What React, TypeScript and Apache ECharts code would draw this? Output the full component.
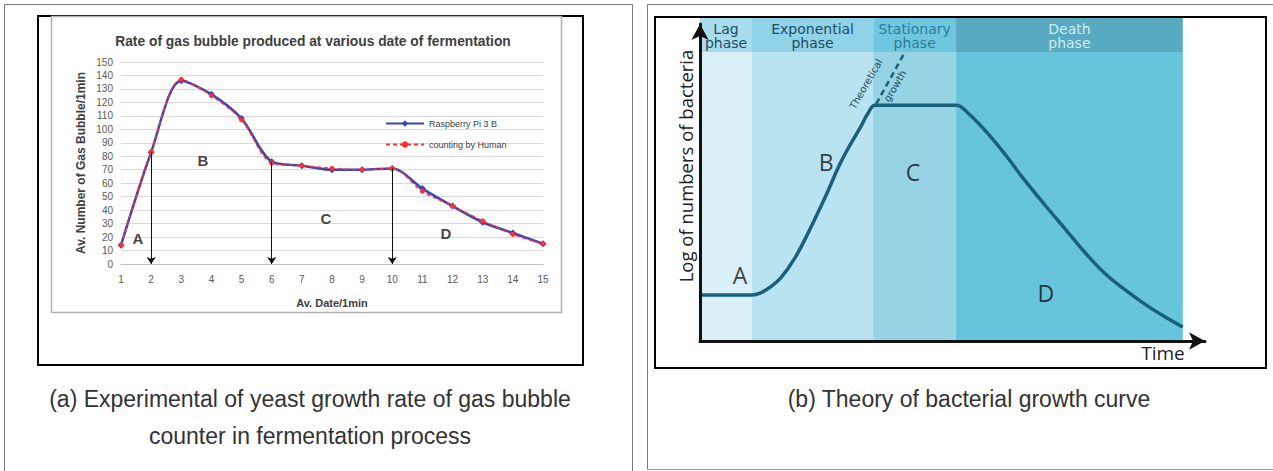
import React, { useEffect, useRef } from 'react';
import * as echarts from 'echarts';

// ---------- Panel (a) data ----------
const dates = [1, 2, 3, 4, 5, 6, 7, 8, 9, 10, 11, 12, 13, 14, 15];
const raspberryPi = [14, 83, 136, 126, 108, 76, 73, 70, 70, 71, 56, 43, 31, 23, 15];
const human = [14, 83, 137, 125, 107, 75, 73, 71, 70, 71, 54, 43, 32, 22, 15];
const arrowDates = [2, 6, 10];
const arrowValues = [83, 76, 71];
const expLetters = ['A', 'B', 'C', 'D'];
const expLetterX = [1.56, 3.72, 7.8, 11.78];
const expLetterY = [19, 77, 34, 23];

// ---------- Panel (b) data ----------
const phaseNames = ['Lag\nphase', 'Exponential\nphase', 'Stationary\nphase', 'Death\nphase'];
const phaseStart = [0, 10.3, 34.3, 50.7];
const phaseEnd = [10.3, 34.3, 50.7, 95.6];
const growthTime = [0, 10.3, 11.9, 13.9, 16.0, 18.8, 21.6, 24.8, 27.7, 29.7, 31.7, 33.3, 34.7, 50.7, 53.0, 56.8, 60.4, 64.0, 68.3, 72.7, 76.4, 80.4, 84.4, 88.3, 92.3, 95.6];
const growthLog = [14.5, 14.5, 15.1, 17.0, 19.9, 26.2, 34.7, 45.4, 55.8, 61.8, 67.2, 71.9, 74.4, 74.4, 72.0, 65.8, 58.9, 51.3, 42.9, 34.6, 27.6, 21.0, 15.9, 11.4, 7.4, 4.4];
const theoreticalTime = [34.9, 40.6];
const theoreticalLog = [74.8, 91.2];
const theoryLetters = ['A', 'B', 'C', 'D'];
const theoryLetterX = [7.9, 25.0, 42.2, 68.5];
const theoryLetterY = [20.8, 56.5, 53.3, 15.1];
const HEADER_BOTTOM = 91.2;
const HEADER_TOP = 101.9;

const bodyColors = ['#d9f0f6', '#b9e3f1', '#95d3e5', '#66c4dd'];
const headerColors = ['#a9dcec', '#90d2e8', '#6fc6df', '#57aac0'];
const headerTextColors = ['#1b4f60', '#1b4f60', '#2a7d9c', '#cdedf5'];

export default function App() {
  const ref = useRef<HTMLDivElement>(null);

  useEffect(() => {
    if (!ref.current) return;
    const chart = echarts.init(ref.current, undefined, { renderer: 'svg' });
    const ff = 'Liberation Sans, Arial, sans-serif';

    const option: any = {
      animation: false,
      backgroundColor: '#ffffff',
      grid: [
        { left: 121, top: 62, width: 422, height: 202 },
        { left: 700, top: 24, width: 505, height: 317 },
      ],
      legend: {
        data: ['Raspberry Pi 3 B', 'counting by Human'],
        orient: 'vertical',
        left: 380,
        top: 114,
        itemGap: 12,
        itemWidth: 38,
        itemHeight: 8,
        textStyle: { fontSize: 9, color: '#404040', fontFamily: ff },
      },
      xAxis: [
        {
          gridIndex: 0,
          type: 'value',
          min: 1,
          max: 15,
          interval: 1,
          name: 'Av. Date/1min',
          nameLocation: 'middle',
          nameGap: 33,
          nameTextStyle: { fontSize: 11, fontWeight: 'bold', color: '#404040', fontFamily: ff },
          axisLine: { show: true, lineStyle: { color: '#bfbfbf', width: 1 } },
          axisTick: { show: false },
          splitLine: { show: false },
          axisLabel: { fontSize: 10, color: '#595959', margin: 10, fontFamily: ff },
        },
        {
          gridIndex: 1,
          type: 'value',
          min: 0,
          max: 100,
          z: 10,
          axisLine: {
            show: true,
            symbol: ['none', 'arrow'],
            symbolSize: [13, 16],
            lineStyle: { color: '#111111', width: 3 },
          },
          axisTick: { show: false },
          axisLabel: { show: false },
          splitLine: { show: false },
        },
      ],
      yAxis: [
        {
          gridIndex: 0,
          type: 'value',
          min: 0,
          max: 150,
          interval: 10,
          name: 'Av. Number of Gas Bubble/1min',
          nameLocation: 'middle',
          nameGap: 34,
          nameRotate: 90,
          nameTextStyle: { fontSize: 12, fontWeight: 'bold', color: '#404040', fontFamily: ff },
          axisLine: { show: false },
          axisTick: { show: false },
          splitLine: { show: true, lineStyle: { color: '#d9d9d9', width: 1 } },
          axisLabel: { fontSize: 10, color: '#595959', margin: 8, fontFamily: ff },
        },
        {
          gridIndex: 1,
          type: 'value',
          min: 0,
          max: 100,
          z: 10,
          axisLine: {
            show: true,
            symbol: ['none', 'arrow'],
            symbolSize: [13, 16],
            lineStyle: { color: '#111111', width: 3 },
          },
          axisTick: { show: false },
          axisLabel: { show: false },
          splitLine: { show: false },
        },
      ],
      series: [
        {
          name: 'Raspberry Pi 3 B',
          type: 'line',
          xAxisIndex: 0,
          yAxisIndex: 0,
          data: dates.map((d, i) => [d, raspberryPi[i]]),
          smooth: 0.3,
          symbol: 'diamond',
          symbolSize: 7,
          itemStyle: { color: '#3b45b5' },
          lineStyle: { color: '#3b45b5', width: 2.5 },
          z: 3,
          markLine: {
            silent: true,
            symbol: ['none', 'arrow'],
            symbolSize: 7,
            label: { show: false },
            lineStyle: { color: '#111111', width: 1, type: 'solid' },
            data: arrowDates.map((d, i) => [{ coord: [d, arrowValues[i]] }, { coord: [d, 0] }]),
          },
        },
        {
          name: 'counting by Human',
          type: 'line',
          xAxisIndex: 0,
          yAxisIndex: 0,
          data: dates.map((d, i) => [d, human[i]]),
          smooth: 0.3,
          symbol: 'circle',
          symbolSize: 5,
          itemStyle: { color: '#ff3030' },
          lineStyle: { color: '#ff3030', width: 1.5, type: [4, 3] },
          z: 4,
        },
        {
          type: 'scatter',
          xAxisIndex: 0,
          yAxisIndex: 0,
          symbolSize: 1,
          itemStyle: { color: 'rgba(0,0,0,0)' },
          silent: true,
          data: expLetters.map((l, i) => ({ name: l, value: [expLetterX[i], expLetterY[i]] })),
          label: {
            show: true,
            position: 'inside',
            formatter: (p: any) => p.name,
            fontSize: 15,
            fontWeight: 'bold',
            color: '#111111',
            fontFamily: ff,
          },
          z: 5,
        },
        {
          type: 'custom',
          xAxisIndex: 1,
          yAxisIndex: 1,
          silent: true,
          z: 1,
          data: phaseStart.map((s, i) => [s, phaseEnd[i]]),
          renderItem: (params: any, api: any) => {
            const i = params.dataIndex;
            const x0 = api.value(0);
            const x1 = api.value(1);
            const tl = api.coord([x0, HEADER_TOP]);
            const hb = api.coord([x1, HEADER_BOTTOM]);
            const br = api.coord([x1, 0]);
            const w = br[0] - tl[0];
            return {
              type: 'group',
              children: [
                { type: 'rect', shape: { x: tl[0], y: hb[1], width: w, height: br[1] - hb[1] }, style: { fill: bodyColors[i] } },
                { type: 'rect', shape: { x: tl[0], y: tl[1], width: w, height: hb[1] - tl[1] }, style: { fill: headerColors[i] } },
                {
                  type: 'text',
                  style: {
                    text: phaseNames[i],
                    x: tl[0] + w / 2,
                    y: (tl[1] + hb[1]) / 2 + 1,
                    align: 'center',
                    verticalAlign: 'middle',
                    font: '14px "DejaVu Sans", sans-serif',
                    lineHeight: 14,
                    fill: headerTextColors[i],
                  },
                },
              ],
            };
          },
        },
        {
          type: 'line',
          xAxisIndex: 1,
          yAxisIndex: 1,
          data: growthTime.map((t, i) => [t, growthLog[i]]),
          smooth: 0.4,
          showSymbol: false,
          symbol: 'none',
          lineStyle: { color: '#19607b', width: 3.5 },
          z: 5,
          silent: true,
        },
        {
          type: 'line',
          xAxisIndex: 1,
          yAxisIndex: 1,
          data: theoreticalTime.map((t, i) => [t, theoreticalLog[i]]),
          symbol: 'none',
          lineStyle: { color: '#19607b', width: 2.5, type: [6, 4] },
          z: 5,
          silent: true,
        },
        {
          type: 'scatter',
          xAxisIndex: 1,
          yAxisIndex: 1,
          symbolSize: 1,
          itemStyle: { color: 'rgba(0,0,0,0)' },
          silent: true,
          data: theoryLetters.map((l, i) => ({ name: l, value: [theoryLetterX[i], theoryLetterY[i]] })),
          label: {
            show: true,
            position: 'inside',
            formatter: (p: any) => p.name,
            fontSize: 23,
            color: '#111111',
            fontFamily: 'Open Sans, sans-serif',
          },
          z: 6,
        },
      ],
      graphic: [
        // table cell borders
        { type: 'line', shape: { x1: 4.5, y1: 4.5, x2: 632.5, y2: 4.5 }, style: { stroke: '#7a7a7a', lineWidth: 1 } },
        { type: 'line', shape: { x1: 4.5, y1: 4.5, x2: 4.5, y2: 471 }, style: { stroke: '#7a7a7a', lineWidth: 1 } },
        { type: 'line', shape: { x1: 632.5, y1: 4.5, x2: 632.5, y2: 471 }, style: { stroke: '#7a7a7a', lineWidth: 1 } },
        { type: 'line', shape: { x1: 647.5, y1: 4.5, x2: 1273, y2: 4.5 }, style: { stroke: '#7a7a7a', lineWidth: 1 } },
        { type: 'line', shape: { x1: 647.5, y1: 4.5, x2: 647.5, y2: 469.5 }, style: { stroke: '#7a7a7a', lineWidth: 1 } },
        { type: 'line', shape: { x1: 647.5, y1: 469.5, x2: 1273, y2: 469.5 }, style: { stroke: '#9a9a9a', lineWidth: 1 } },
        // panel frames
        { type: 'rect', shape: { x: 38, y: 16, width: 545, height: 349 }, style: { fill: 'none', stroke: '#000000', lineWidth: 2 } },
        { type: 'rect', shape: { x: 51.5, y: 16.5, width: 510, height: 296 }, style: { fill: 'none', stroke: '#b0b0b0', lineWidth: 1.5 } },
        { type: 'rect', shape: { x: 655, y: 17, width: 611, height: 351 }, style: { fill: 'none', stroke: '#000000', lineWidth: 2 } },
        // panel (a) title
        {
          type: 'text',
          x: 313,
          y: 41,
          style: {
            text: 'Rate of gas bubble produced at various date of fermentation',
            align: 'center',
            verticalAlign: 'middle',
            font: 'bold 13.8px "Liberation Sans", Arial, sans-serif',
            fill: '#404040',
          },
        },
        // panel (b) texts
        {
          type: 'text',
          x: 685,
          y: 166,
          rotation: Math.PI / 2,
          style: {
            text: 'Log of numbers of bacteria',
            align: 'center',
            verticalAlign: 'middle',
            font: '18.5px "Open Sans", sans-serif',
            fill: '#222222',
          },
        },
        {
          type: 'text',
          x: 1163,
          y: 353,
          style: {
            text: 'Time',
            align: 'center',
            verticalAlign: 'middle',
            font: '19px "Open Sans", sans-serif',
            fill: '#222222',
          },
        },
        {
          type: 'text',
          x: 866,
          y: 84,
          rotation: (60 * Math.PI) / 180,
          z: 20,
          style: {
            text: 'Theoretical',
            align: 'center',
            verticalAlign: 'middle',
            font: '10px "DejaVu Sans", sans-serif',
            fill: '#1b4f60',
          },
        },
        {
          type: 'text',
          x: 895,
          y: 86,
          rotation: (60 * Math.PI) / 180,
          z: 20,
          style: {
            text: 'growth',
            align: 'center',
            verticalAlign: 'middle',
            font: '10px "DejaVu Sans", sans-serif',
            fill: '#1b4f60',
          },
        },
        // captions
        {
          type: 'text',
          x: 310,
          y: 399,
          style: {
            text: '(a) Experimental of yeast growth rate of gas bubble',
            align: 'center',
            verticalAlign: 'middle',
            font: '23px "Liberation Sans", Arial, sans-serif',
            fill: '#333333',
          },
        },
        {
          type: 'text',
          x: 310,
          y: 436,
          style: {
            text: 'counter in fermentation process',
            align: 'center',
            verticalAlign: 'middle',
            font: '23px "Liberation Sans", Arial, sans-serif',
            fill: '#333333',
          },
        },
        {
          type: 'text',
          x: 969,
          y: 399,
          style: {
            text: '(b) Theory of bacterial growth curve',
            align: 'center',
            verticalAlign: 'middle',
            font: '23px "Liberation Sans", Arial, sans-serif',
            fill: '#333333',
          },
        },
      ],
    };

    chart.setOption(option);
    return () => chart.dispose();
  }, []);

  return (
    <div
      ref={ref}
      style={{ position: 'absolute', left: 0, top: 0, width: 1273, height: 471 }}
    />
  );
}
